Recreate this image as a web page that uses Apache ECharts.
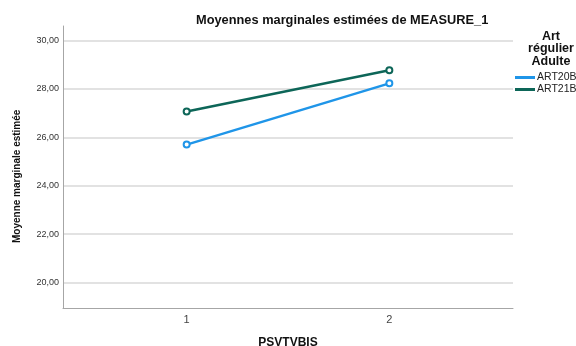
<!DOCTYPE html>
<html><head><meta charset="utf-8">
<script src="https://cdn.jsdelivr.net/npm/echarts@6/dist/echarts.min.js"></script>
<style>html,body{margin:0;padding:0;background:#fff}#c{width:576px;height:346px}</style>
</head><body><div id="c"></div>
<script>
const categories = [1, 2];
const seriesNames = ['ART20B', 'ART21B'];
const art20b = [25.70, 28.23];
const art21b = [27.07, 28.77];
const yTicks = [20, 22, 24, 26, 28, 30];

const chart = echarts.init(document.getElementById('c'), null, {renderer: 'canvas'});
const font = 'Liberation Sans, Arial, sans-serif';
const colors = ['#1f95e8', '#0d6658'];
chart.setOption({
  animation: false,
  textStyle: {fontFamily: font},
  title: {
    text: 'Moyennes marginales estimées de MEASURE_1',
    left: 191, top: 9,
    textStyle: {fontSize: 12.8, fontWeight: 'bold', color: '#111', fontFamily: font}
  },
  legend: {
    orient: 'vertical', left: 515, top: 72, itemWidth: 20, itemHeight: 3, itemGap: 1,
    padding: 0, icon: 'rect',
    textStyle: {fontSize: 10.5, color: '#222', padding: [0,0,0,-3]},
    data: seriesNames
  },
  graphic: [
    {type: 'text', x: 551, y: 30, style: {text: 'Art\nrégulier\nAdulte', align: 'center', font: 'bold 12.5px ' + font, fill: '#111', lineHeight: 12.5}},
    {type: 'text', x: 12, y: 243, rotation: Math.PI/2, style: {text: 'Moyenne marginale estimée', font: 'bold 10px ' + font, fill: '#111'}}
  ],
  grid: {left: 63, right: 63, top: 26, bottom: 38, outerBoundsMode: 'none', containLabel: false},
  xAxis: {
    type: 'value', min: 0.39, max: 2.61,
    name: 'PSVTVBIS', nameLocation: 'middle', nameGap: 29,
    nameTextStyle: {fontSize: 12, fontWeight: 'bold', color: '#111'},
    axisLine: {show: true, lineStyle: {color: '#a6a6a6', width: 1}},
    axisTick: {show: false, customValues: categories},
    splitLine: {show: false},
    axisLabel: {customValues: categories, formatter: v => String(v), fontSize: 11, color: '#444', margin: 6}
  },
  yAxis: {
    type: 'value', min: 18.95, max: 30.6,
    axisLine: {show: true, lineStyle: {color: '#a6a6a6', width: 1}},
    axisTick: {show: false, customValues: yTicks},
    axisLabel: {customValues: yTicks, formatter: v => v.toFixed(2).replace('.', ','), fontSize: 9, color: '#333', margin: 4},
    splitLine: {show: true, lineStyle: {color: '#d9d9d9', width: 1.5}}
  },
  series: [
    {name: seriesNames[0], type: 'line', data: categories.map((c,i)=>[c, art20b[i]]), color: colors[0],
     lineStyle: {width: 2.5}, symbol: 'emptyCircle', symbolSize: 6, itemStyle: {borderWidth: 1}},
    {name: seriesNames[1], type: 'line', data: categories.map((c,i)=>[c, art21b[i]]), color: colors[1],
     lineStyle: {width: 2.5}, symbol: 'emptyCircle', symbolSize: 6, itemStyle: {borderWidth: 1}}
  ]
});
</script></body></html>
